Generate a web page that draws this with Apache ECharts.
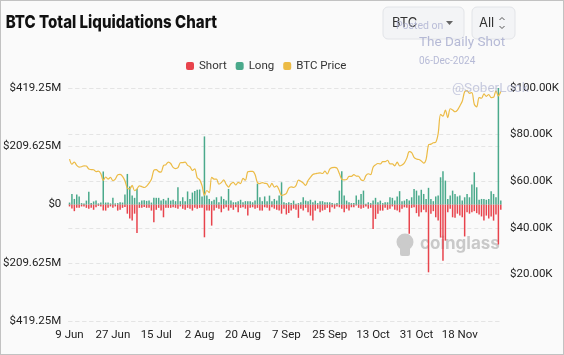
<!DOCTYPE html>
<html><head><meta charset="utf-8">
<script src="https://cdn.jsdelivr.net/npm/echarts@6/dist/echarts.min.js"></script>
<style>
html,body{margin:0;padding:0;background:#fafafa}
#wrap{position:relative;width:564px;height:355px}
#c{position:absolute;left:0;top:0;width:564px;height:355px}
#b{position:absolute;left:0;top:0;width:564px;height:355px;box-sizing:border-box;border:1px solid #c2c2c2;pointer-events:none}
</style>
</head><body><div id="wrap"><div id="c"></div><div id="b"></div></div>
<script>
// ---- data ----
const startDate = [2024, 5, 9];          // 9 Jun 2024, daily points
const dayCount = 180;
const monthNames = ['Jan','Feb','Mar','Apr','May','Jun','Jul','Aug','Sep','Oct','Nov','Dec'];
const categories = [];
for (let i = 0; i < dayCount; i++) {
  const d = new Date(Date.UTC(startDate[0], startDate[1], startDate[2] + i));
  categories.push(d.getUTCDate() + ' ' + monthNames[d.getUTCMonth()]);
}
// Long liquidations ($M)
const longLiq = [7,38,20,36,29,5,4,14,46,5,
  11,14,4,7,119,7,7,4,24,4,
  5,8,7,36,110,65,32,24,56,8,
  14,15,13,14,7,24,24,24,14,20,
  14,24,14,17,12,62,12,26,12,47,
  20,43,49,53,54,29,245,32,20,12,
  17,26,8,29,20,14,56,14,8,8,
  12,17,8,12,12,12,8,14,75,26,
  12,29,12,32,12,20,14,32,80,8,
  5,8,5,14,3,5,8,26,14,12,
  17,8,14,5,12,12,8,8,8,5,
  3,5,50,120,32,14,8,5,5,32,
  17,38,50,3,8,5,14,24,8,14,
  5,8,8,26,24,14,29,48,12,14,
  20,14,26,56,50,32,53,38,20,60,
  20,12,29,32,98,120,86,20,32,50,
  38,29,32,14,26,38,26,72,116,62,
  17,20,20,17,20,48,38,26,419.25,14];
// Short liquidations ($M, magnitude)
const shortLiq = [7,14,24,12,12,7,7,12,15,12,
  19,10,5,7,22,22,12,7,12,7,
  22,19,12,9,33,50,58,33,103,12,
  12,9,12,12,22,64,19,12,22,46,
  12,12,12,10,12,15,7,15,19,12,
  15,22,12,15,12,12,118,22,22,76,
  22,12,15,28,15,10,22,12,19,10,
  28,12,10,15,40,12,10,15,12,22,
  22,10,12,22,10,15,19,22,33,15,
  36,31,22,15,19,48,15,22,12,28,
  40,58,22,15,28,22,19,12,28,10,
  15,7,10,15,28,15,22,10,10,4,
  12,15,12,7,15,12,88,52,33,22,
  22,12,19,15,7,19,22,28,15,10,
  12,105,12,10,31,43,28,19,28,244,
  33,24,46,58,119,202,130,28,15,46,
  48,33,40,46,115,28,33,28,24,31,
  36,43,58,40,50,43,58,36,144,19];
// BTC price ($K)
const btcPrice = [69.5,67.3,68.2,66.8,66.0,66.2,66.6,66.5,65.2,65.0,64.9,64.1,64.3,63.2,60.3,61.8,60.9,61.6,60.3,60.9,62.7,
  62.9,62.1,60.2,57.0,56.7,58.2,55.9,56.7,58.0,57.7,57.3,57.9,59.2,60.8,64.7,65.0,64.1,63.9,66.7,67.1,68.2,67.6,65.9,65.4,65.8,67.9,68.0,68.2,66.8,66.2,64.6,
  65.3,61.5,60.7,58.1,54.0,56.0,55.1,61.7,60.9,60.9,58.7,59.4,60.6,58.7,57.5,58.9,59.5,58.4,59.5,59.0,61.2,60.4,64.1,64.2,64.2,62.9,59.4,59.0,59.4,59.1,58.9,
  57.3,59.1,57.5,58.0,56.2,53.9,54.2,54.8,57.0,57.6,57.3,58.1,60.5,60.0,59.2,58.2,60.3,61.7,62.9,63.2,63.4,63.6,63.3,64.3,63.1,65.2,65.8,65.9,65.6,63.3,
  60.8,60.6,60.7,62.1,62.1,62.8,62.2,62.1,60.6,60.3,62.4,63.2,62.8,66.0,67.0,67.6,67.4,68.4,68.4,69.0,67.4,67.4,66.6,68.2,66.6,67.0,67.9,69.9,72.7,72.3,70.2,
  69.5,69.3,68.7,67.8,69.4,75.6,75.9,76.5,76.7,80.4,88.7,87.9,90.5,87.3,91.1,90.6,89.8,90.5,92.3,94.3,98.4,98.9,97.7,98.0,93.0,91.9,95.9,95.6,97.5,96.4,
  97.2,95.9,96.0,98.8,96.6,98.5];
const liqAxisMax = 419.25;
const liqAxisStep = 209.625;
const priceAxis = [0, 100000, 20000];

// ---- chart ----
const chart = echarts.init(document.getElementById('c'), null, {renderer: 'canvas'});
const labelFont = 'Roboto';
const option = {
  backgroundColor: '#fafafa',
  animation: false,
  textStyle: {fontFamily: labelFont},
  legend: {
    data: ['Short', 'Long', 'BTC Price'],
    top: 55, left: 181,
    icon: 'roundRect', itemWidth: 8, itemHeight: 8, itemGap: 9,
    textStyle: {fontFamily: 'Roboto', fontSize: 11.5, color: '#333'}
  },
  grid: {left: 66, right: 62, top: 88, bottom: 34, containLabel: false},
  xAxis: {
    type: 'category', data: categories, boundaryGap: true,
    axisLine: {show: false}, axisTick: {show: false},
    axisLabel: {interval: 17, color: '#222', fontSize: 11.5, margin: 8, fontFamily: labelFont}
  },
  yAxis: [{
    type: 'value', min: -liqAxisMax, max: liqAxisMax, interval: liqAxisStep,
    axisLine: {show: false}, axisTick: {show: false},
    splitLine: {lineStyle: {type: [4, 3], color: '#e4e4e4'}},
    axisLabel: {color: '#222', fontSize: 11.5, margin: 7, fontFamily: labelFont,
      formatter: v => v === 0 ? '$0' : '$' + Math.abs(+v.toFixed(3)) + 'M'}
  }, {
    type: 'value', min: priceAxis[0], max: priceAxis[1], interval: priceAxis[2],
    axisLine: {show: false}, axisTick: {show: false},
    splitLine: {lineStyle: {type: [4, 3], color: '#e4e4e4'}},
    axisLabel: {color: '#222', fontSize: 11.5, margin: 8, fontFamily: labelFont,
      formatter: v => v === 0 ? '' : '$' + (v / 1000).toFixed(2) + 'K'}
  }],
  series: [{
    name: 'Short', type: 'bar', stack: 'liq', yAxisIndex: 0, barWidth: '62%',
    itemStyle: {color: '#e8434c'},
    data: shortLiq.map(v => -v)
  }, {
    name: 'Long', type: 'bar', stack: 'liq', yAxisIndex: 0, barWidth: '62%',
    itemStyle: {color: '#4aa98b'},
    data: longLiq
  }, {
    name: 'BTC Price', type: 'line', yAxisIndex: 1, smooth: 0.3, showSymbol: false,
    itemStyle: {color: '#ecbb45'},
    lineStyle: {color: '#ecbb45', width: 1.2},
    data: btcPrice.map(v => v * 1000), z: 3
  }],
  graphic: [
    {type: 'text', x: 5, y: 23, scaleX: 0.86, originX: 5, z: 10, style: {text: 'BTC Total Liquidations Chart', font: '800 17.5px Inter', fill: '#111', verticalAlign: 'middle'}},
    {type: 'rect', shape: {x: 383, y: 7, width: 81, height: 32, r: 5}, z: 10, style: {fill: '#f3f4f6', stroke: '#e2e4e8', lineWidth: 1}},
    {type: 'text', x: 392, y: 23, z: 11, style: {text: 'BTC', font: '13px Inter', fill: '#333', verticalAlign: 'middle'}},
    {type: 'polygon', z: 11, shape: {points: [[446, 21], [453, 21], [449.5, 25]]}, style: {fill: '#666'}},
    {type: 'rect', shape: {x: 472, y: 7, width: 43, height: 32, r: 5}, z: 10, style: {fill: '#f3f4f6', stroke: '#e2e4e8', lineWidth: 1}},
    {type: 'text', x: 479, y: 23, z: 11, style: {text: 'All', font: '13px Inter', fill: '#333', verticalAlign: 'middle'}},
    {type: 'polyline', z: 11, shape: {points: [[499.5, 20], [502, 17.5], [504.5, 20]]}, style: {stroke: '#555', lineWidth: 1, fill: null}},
    {type: 'polyline', z: 11, shape: {points: [[499.5, 26], [502, 28.5], [504.5, 26]]}, style: {stroke: '#555', lineWidth: 1, fill: null}},
    // watermarks
    {type: 'text', x: 396, y: 26, z: 12, style: {text: 'Posted on', font: '10.5px Roboto', fill: 'rgba(165,170,205,0.75)', verticalAlign: 'middle'}},
    {type: 'text', x: 419, y: 43, z: 12, style: {text: 'The Daily Shot', font: '13.5px Roboto', fill: 'rgba(165,170,205,0.8)', verticalAlign: 'middle'}},
    {type: 'text', x: 419, y: 61, z: 12, style: {text: '06-Dec-2024', font: '10px Roboto', fill: 'rgba(165,170,205,0.8)', verticalAlign: 'middle'}},
    {type: 'text', x: 452, y: 89, z: 12, style: {text: '@SoberLook', font: '13.5px Roboto', fill: 'rgba(165,170,205,0.6)', verticalAlign: 'middle'}},
    {type: 'circle', z: 1, shape: {cx: 405, cy: 242, r: 8.5}, style: {fill: '#cbcbcb'}},
    {type: 'rect', z: 1, shape: {x: 400, y: 244, width: 10, height: 12, r: 2}, style: {fill: '#cbcbcb'}},
    {type: 'text', x: 420, y: 244, z: 1, style: {text: 'coinglass', font: 'bold 17px Inter', fill: '#c9c9c9', verticalAlign: 'middle'}}
  ]
};
chart.setOption(option);
</script></body></html>
